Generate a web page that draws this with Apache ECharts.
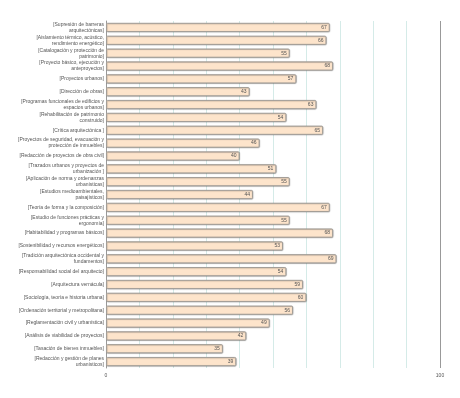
<!DOCTYPE html>
<html>
<head>
<meta charset="utf-8">
<script src="https://cdn.jsdelivr.net/npm/echarts@6/dist/echarts.min.js"></script>
<style>
html, body { margin: 0; padding: 0; background: #fff; }
#chart { width: 460px; height: 398px; }
</style>
</head>
<body>
<div id="chart"></div>
<script>
var categories = [
	"[Supresión de barreras\narquitectónicas]",
	"[Aislamiento térmico, acústico,\nrendimiento energético]",
	"[Catalogación y protección de\npatrimonio]",
	"[Proyecto básico, ejecución y\nanteproyectos]",
	"[Proyectos urbanos]",
	"[Dirección de obras]",
	"[Programas funcionales de edificios y\nespacios urbanos]",
	"[Rehabilitación de patrimonio\nconstruido]",
	"[Crítica arquitectónica ]",
	"[Proyectos de seguridad, evacuación y\nprotección de inmuebles]",
	"[Redacción de proyectos de obra civil]",
	"[Trazados urbanos y proyectos de\nurbanización ]",
	"[Aplicación de norma y ordenanzas\nurbanísticas]",
	"[Estudios medioambientales,\npaisajísticos]",
	"[Teoría de forma y la composición]",
	"[Estudio de funciones prácticas y\nergonomía]",
	"[Habitabilidad y programas básicos]",
	"[Sostenibilidad y recursos energéticos]",
	"[Tradición arquitectónica occidental y\nfundamentos]",
	"[Responsabilidad social del arquitecto]",
	"[Arquitectura vernácula]",
	"[Sociología, teoría e historia urbana]",
	"[Ordenación territorial y metropolitana]",
	"[Reglamentación civil y urbanística]",
	"[Análisis de viabilidad de proyectos]",
	"[Tasación de bienes inmuebles]",
	"[Redacción y gestión de planes\nurbanísticos]"
];

var values = [67, 66, 55, 68, 57, 43, 63, 54, 65, 46, 40, 51, 55, 44, 67, 55, 68, 53, 69, 54, 59, 60, 56, 49, 42, 35, 39];

var axisMin = 0;
var axisMax = 100;

var chart = echarts.init(document.getElementById("chart"));

var option = {
	animation: false,
	grid: {
		left: 106,
		right: 20,
		top: 21,
		bottom: 30
	},
	xAxis: {
		type: "value",
		min: axisMin,
		max: axisMax,
		interval: 100,
		axisLine: { show: false },
		axisTick: { show: false },
		axisLabel: {
			fontSize: 5,
			color: "#555",
			fontFamily: "Liberation Sans, Arial, sans-serif",
			margin: 5
		},
		splitLine: {
			show: true,
			lineStyle: { color: "#999", width: 1 }
		},
		minorTick: { show: false, splitNumber: 10 },
		minorSplitLine: {
			show: true,
			lineStyle: { color: "#d5ebe8", width: 1 }
		}
	},
	yAxis: {
		type: "category",
		data: categories,
		inverse: true,
		axisLine: { show: true, lineStyle: { color: "#999" } },
		axisTick: { show: false },
		axisLabel: {
			fontSize: 5,
			lineHeight: 6,
			color: "#555",
			align: "right",
			fontFamily: "Liberation Sans, Arial, sans-serif",
			margin: 2
		}
	},
	series: [{
		type: "bar",
		data: values,
		barCategoryGap: "28%",
		itemStyle: {
			color: "#fde4cb",
			borderColor: "#a39e98",
			borderWidth: 1,
			borderRadius: 1,
			shadowColor: "rgba(0,0,0,0.25)",
			shadowBlur: 1,
			shadowOffsetX: 0.5,
			shadowOffsetY: 0.5
		},
		label: {
			show: true,
			position: "insideRight",
			fontSize: 5,
			color: "#555",
			fontFamily: "Liberation Sans, Arial, sans-serif",
			distance: 3
		}
	}]
};

chart.setOption(option);
</script>
</body>
</html>
